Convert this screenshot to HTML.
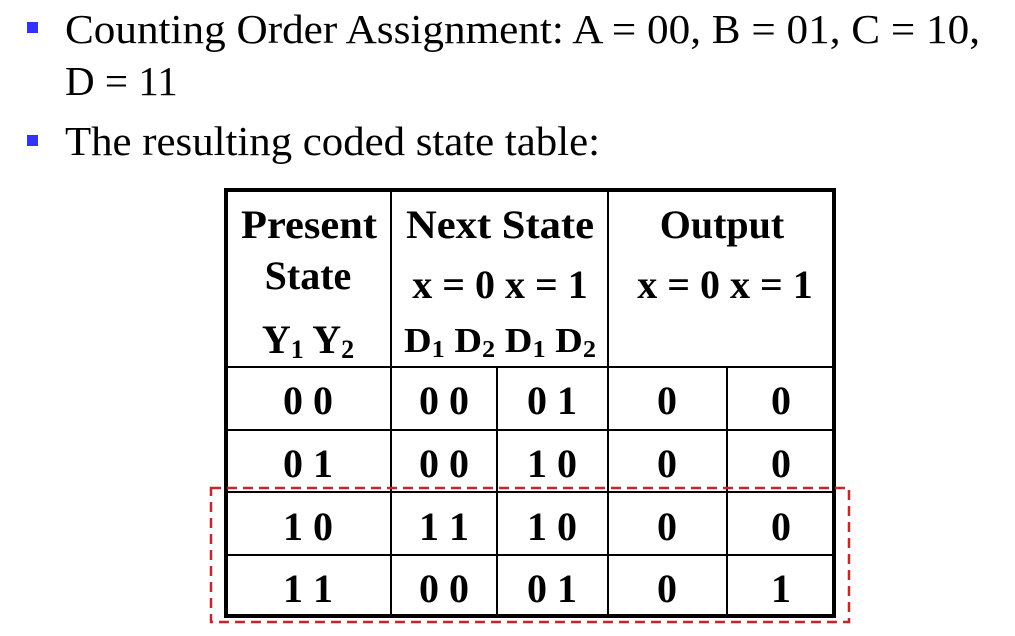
<!DOCTYPE html>
<html><head><meta charset="utf-8"><style>
html,body{margin:0;padding:0;background:#fff;}
svg{display:block;}
text{font-family:"Liberation Serif",serif;fill:#000;}
.b{font-weight:bold;}
</style></head><body>
<svg width="1015" height="636" viewBox="0 0 1015 636">
<rect x="27" y="22" width="11" height="11" fill="#3333ff"/>
<text x="65" y="43" font-size="41" textLength="915" lengthAdjust="spacingAndGlyphs">Counting Order Assignment: A = 00, B = 01, C = 10,</text>
<text x="65" y="95" font-size="41">D = 11</text>
<rect x="27" y="135" width="11" height="11" fill="#3333ff"/>
<text x="65" y="155" font-size="41" textLength="535" lengthAdjust="spacingAndGlyphs">The resulting coded state table:</text>

<g stroke="#000" fill="none">
<line x1="224" y1="367" x2="836" y2="367" stroke-width="2"/>
<line x1="224" y1="430" x2="836" y2="430" stroke-width="2"/>
<line x1="224" y1="492" x2="836" y2="492" stroke-width="2"/>
<line x1="224" y1="555" x2="836" y2="555" stroke-width="2"/>
<line x1="391" y1="188" x2="391" y2="618" stroke-width="2"/>
<line x1="608" y1="188" x2="608" y2="618" stroke-width="2"/>
<line x1="497" y1="367" x2="497" y2="618" stroke-width="2"/>
<line x1="727" y1="367" x2="727" y2="618" stroke-width="2"/>
<rect x="226" y="190" width="608" height="426" stroke-width="4"/>
</g>
<rect x="211" y="488" width="638" height="134" fill="none" stroke="#c0282d" stroke-width="2.5" stroke-dasharray="10,6"/>

<g class="b" text-anchor="middle" font-size="40">
<text x="309" y="238" class="b" textLength="136" lengthAdjust="spacingAndGlyphs">Present</text>
<text x="308" y="289" class="b">State</text>
<text x="308" y="353" class="b">Y<tspan font-size="26" dy="5">1</tspan><tspan dy="-5"> Y</tspan><tspan font-size="26" dy="5">2</tspan></text>
<text x="500" y="238" class="b" textLength="188" lengthAdjust="spacingAndGlyphs">Next State</text>
<text x="500" y="298" class="b">x = 0 x = 1</text>
<text x="404" y="352" text-anchor="start" class="b" font-size="35" textLength="192" lengthAdjust="spacingAndGlyphs">D<tspan font-size="24" dy="5">1</tspan><tspan dy="-5"> D</tspan><tspan font-size="24" dy="5">2</tspan><tspan dy="-5">  D</tspan><tspan font-size="24" dy="5">1</tspan><tspan dy="-5"> D</tspan><tspan font-size="24" dy="5">2</tspan></text>
<text x="722" y="238" class="b">Output</text>
<text x="725" y="298" class="b">x = 0 x = 1</text>
</g>

<g text-anchor="middle" font-size="40">
<text x="308" y="414" class="b">0 0</text><text x="444" y="414" class="b">0 0</text><text x="552" y="414" class="b">0 1</text><text x="667" y="414" class="b">0</text><text x="781" y="414" class="b">0</text>
<text x="308" y="477" class="b">0 1</text><text x="444" y="477" class="b">0 0</text><text x="552" y="477" class="b">1 0</text><text x="667" y="477" class="b">0</text><text x="781" y="477" class="b">0</text>
<text x="308" y="540" class="b">1 0</text><text x="444" y="540" class="b">1 1</text><text x="552" y="540" class="b">1 0</text><text x="667" y="540" class="b">0</text><text x="781" y="540" class="b">0</text>
<text x="308" y="602" class="b">1 1</text><text x="444" y="602" class="b">0 0</text><text x="552" y="602" class="b">0 1</text><text x="667" y="602" class="b">0</text><text x="781" y="602" class="b">1</text>
</g>
</svg>
</body></html>
